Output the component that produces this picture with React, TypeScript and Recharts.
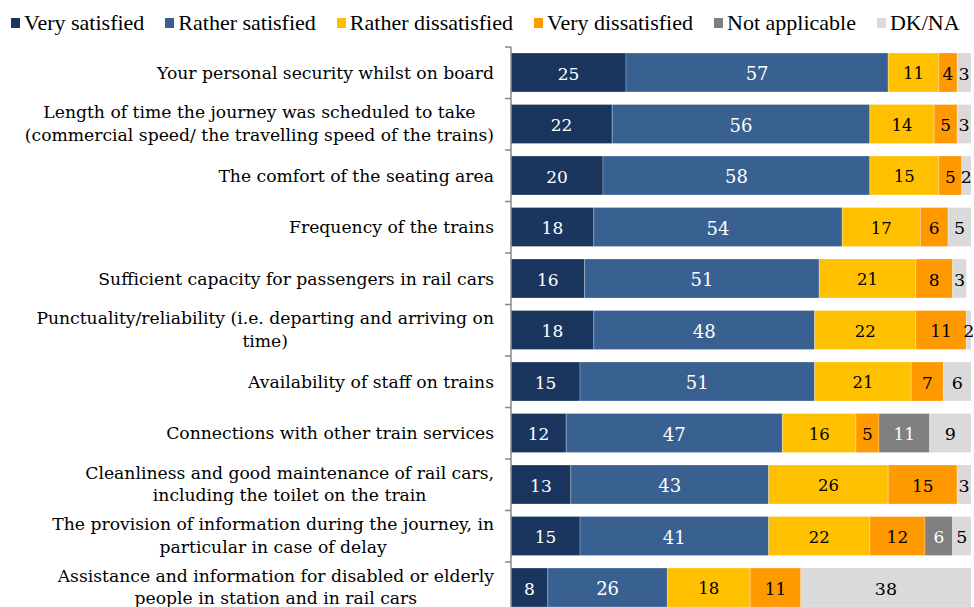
import React from "react";
import { BarChart, Bar, XAxis, YAxis, Legend, LabelList } from "recharts";

const categories = [
  "Your personal security whilst on board",
  "Length of time the journey was scheduled to take\n(commercial speed/ the travelling speed of the trains)",
  "The comfort of the seating area",
  "Frequency of the trains",
  "Sufficient capacity for passengers in rail cars",
  "Punctuality/reliability (i.e. departing and arriving on\ntime)",
  "Availability of staff on trains",
  "Connections with other train services",
  "Cleanliness and good maintenance of rail cars,\nincluding the toilet on the train",
  "The provision of information during the journey, in\nparticular in case of delay",
  "Assistance and information for disabled or elderly\npeople in station and in rail cars",
];

const verySatisfied = [25, 22, 20, 18, 16, 18, 15, 12, 13, 15, 8];
const ratherSatisfied = [57, 56, 58, 54, 51, 48, 51, 47, 43, 41, 26];
const ratherDissatisfied = [11, 14, 15, 17, 21, 22, 21, 16, 26, 22, 18];
const veryDissatisfied = [4, 5, 5, 6, 8, 11, 7, 5, 15, 12, 11];
const notApplicable = [null, null, null, null, null, null, null, 11, null, 6, null];
const dkNa = [3, 3, 2, 5, 3, 2, 6, 9, 3, 5, 38];

const seriesNames = [
  "Very satisfied",
  "Rather satisfied",
  "Rather dissatisfied",
  "Very dissatisfied",
  "Not applicable",
  "DK/NA",
];
const seriesKeys = ["vs", "rs", "rd", "vd", "na", "dk"];
const seriesColors = ["#1b365e", "#386192", "#ffc000", "#ff9900", "#808080", "#dadada"];
const labelColors = ["#ffffff", "#ffffff", "#000000", "#000000", "#ffffff", "#000000"];

const data = categories.map((c, i) => ({
  category: c,
  vs: verySatisfied[i],
  rs: ratherSatisfied[i],
  rd: ratherDissatisfied[i],
  vd: veryDissatisfied[i],
  na: notApplicable[i],
  dk: dkNa[i],
}));

const LABEL_SIZE = 17.2;
const LABEL_FONT = `${LABEL_SIZE}px "DejaVu Serif"`;
let canvasEl: HTMLCanvasElement | null = null;
function measure(text: string): number {
  if (!canvasEl) canvasEl = document.createElement("canvas");
  const ctx = canvasEl.getContext("2d");
  if (!ctx) return text.length * 8.7;
  ctx.font = LABEL_FONT;
  return ctx.measureText(text).width;
}

const BAND = 51.5;
const LINE_H = 22.5;

const CategoryTick = (props: any) => {
  const { x, y, payload } = props;
  const lines = String(payload.value).split("\n");
  const maxW = Math.max(...lines.map(measure));
  const cx = x - 17 - maxW / 2;
  const startY = y - ((lines.length - 1) * LINE_H) / 2 - (lines.length > 1 ? 1 : 0);
  return (
    <g>
      <line x1={x - 6} x2={x} y1={y - BAND / 2} y2={y - BAND / 2} stroke="#888" strokeWidth={1.5} />
      <text
        x={cx}
        y={startY}
        textAnchor="middle"
        fontFamily='"DejaVu Serif"'
        fontSize={LABEL_SIZE}
        fill="#000"
      >
        {lines.map((l, i) => (
          <tspan key={i} x={cx} y={startY + i * LINE_H} dominantBaseline="central">
            {l}
          </tspan>
        ))}
      </text>
    </g>
  );
};

const makeLabel = (color: string, size: number) => (props: any) => {
  const { x, y, width, height, value } = props;
  if (value === null || value === undefined || value === 0) return null;
  return (
    <text
      x={x + width / 2}
      y={y + height / 2 + 1}
      textAnchor="middle"
      dominantBaseline="central"
      fontFamily='"DejaVu Serif"'
      fontSize={size}
      fill={color}
    >
      {value}
    </text>
  );
};

const LegendContent = () => (
  <div
    style={{
      height: 39,
      display: "flex",
      alignItems: "flex-start",
      paddingLeft: 3,
      paddingTop: 4,
      boxSizing: "border-box",
      fontFamily: '"Liberation Serif"',
      fontSize: 22,
      lineHeight: "22px",
      color: "#000",
      whiteSpace: "nowrap",
    }}
  >
    {seriesNames.map((n, i) => (
      <div key={n} style={{ display: "flex", alignItems: "center", marginRight: 21 }}>
        <span
          style={{
            display: "inline-block",
            width: 9,
            height: 10,
            background: seriesColors[i],
            marginRight: 4,
          }}
        />
        <span>{n}</span>
      </div>
    ))}
  </div>
);

const labelSizes = [17, 18, 16.5, 17, 17, 17.5];

export default function App() {
  return (
    <div style={{ width: 966, height: 599, overflow: "hidden" }}>
      <style>{`html, body { overflow: hidden; } body { margin: 8px 0 0 8px; } #root { width: 966px; }`}</style>
      <BarChart
        width={966}
        height={610}
        data={data}
        layout="vertical"
        margin={{ top: 0, right: 3, bottom: 4.5, left: 0 }}
        barSize={39}
      >
        <Legend
          verticalAlign="top"
          align="left"
          content={<LegendContent />}
          wrapperStyle={{ left: 0, top: 0, width: 966 }}
        />
        <XAxis type="number" domain={[0, 100]} allowDataOverflow hide />
        <YAxis
          type="category"
          dataKey="category"
          width={503}
          tickSize={0}
          tickMargin={0}
          tickLine={false}
          axisLine={{ stroke: "#888", strokeWidth: 1.5 }}
          tick={<CategoryTick />}
          interval={0}
        />
        {seriesKeys.map((k, i) => (
          <Bar
            key={k}
            dataKey={k}
            name={seriesNames[i]}
            stackId="a"
            fill={seriesColors[i]}
            stroke="#ffffff"
            strokeOpacity={0.5}
            strokeWidth={0.5}
            isAnimationActive={false}
          >
            <LabelList dataKey={k} content={makeLabel(labelColors[i], labelSizes[i])} />
          </Bar>
        ))}
      </BarChart>
    </div>
  );
}
